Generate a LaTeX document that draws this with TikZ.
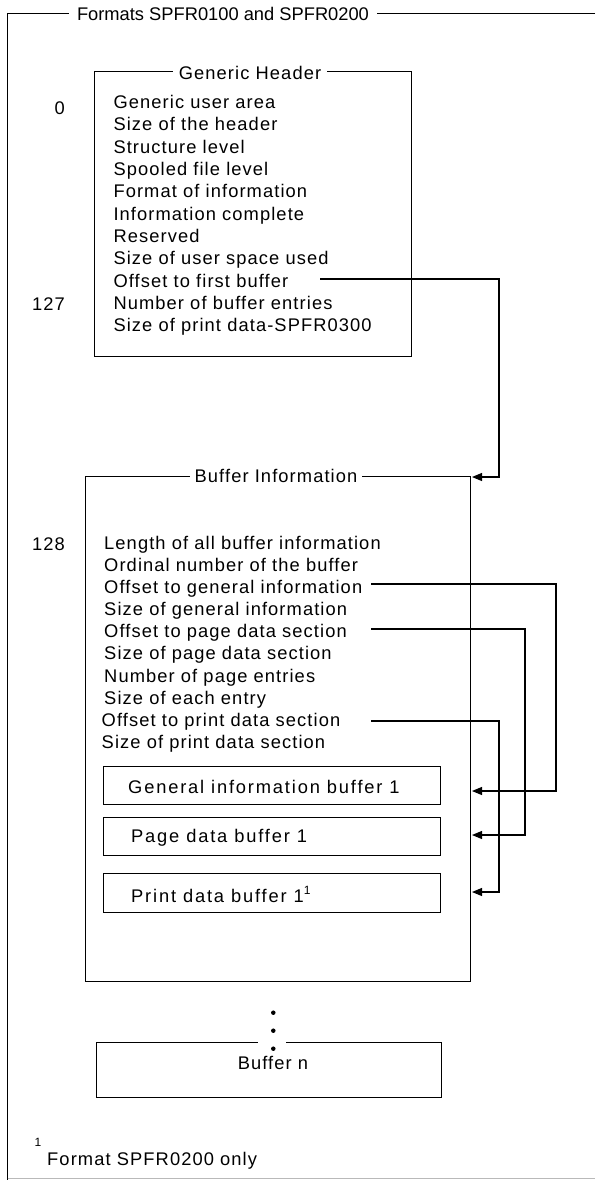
\documentclass[tikz,border=0pt]{standalone}
\usepackage{fontspec}
\setmainfont{Liberation Sans}
\newfontfamily\bodyfont[LetterSpace=6]{Liberation Sans}
\newfontfamily\widefont[LetterSpace=10]{Liberation Sans}
\usetikzlibrary{arrows.meta}
\newcommand{\itemsize}{\fontsize{18.3}{21}\selectfont}
\newcommand{\supsize}{\fontsize{12}{12}\selectfont}
\begin{document}
\begin{tikzpicture}[x=1pt,y=-1pt,
  ln/.style={line width=1.1pt},
  box/.style={draw, line width=1.1pt, inner sep=0pt, anchor=north west},
  ttl/.style={fill=white, inner xsep=6pt, inner ysep=3pt, anchor=base, font=\bodyfont\itemsize},
  item/.style={anchor=base west, inner sep=0pt, font=\bodyfont\itemsize},
  witem/.style={anchor=base west, inner sep=0pt, font=\widefont\itemsize},
  num/.style={anchor=base east, inner sep=0pt, font=\bodyfont\itemsize},
  arr/.style={line width=1.1pt, -{Triangle[length=10pt,width=8pt]}},
  dotn/.style={circle, fill, inner sep=0pt, minimum size=4.5pt}]
\useasboundingbox (0,0) rectangle (595,1180);

% outer frame
\draw[ln] (595,13.5) -- (7.5,13.5) -- (7.5,1180);
\draw[gray!55, line width=0.8pt] (7.5,1178.5) -- (595,1178.5);
\node[fill=white, inner xsep=8pt, inner ysep=3pt, anchor=base, font=\itemsize] (outer) at (223,20.3) {Formats SPFR0100 and SPFR0200};

% generic header
\node[box, minimum width=317pt, minimum height=285pt] (gh) at (94,71) {};
\node[ttl] (ght) at (250,80) {Generic Header};
\foreach \t [count=\i from 0] in {Generic user area, Size of the header, Structure level, Spooled file level, Format of information, Information complete, Reserved, Size of user space used, Offset to first buffer, Number of buffer entries, Size of print data-SPFR0300}
  \node[item] (g\i) at (113.3,108.7+22.3*\i) {\t};
\node[num] (n0) at (65,115) {0};
\node[num] (n127) at (65,310) {127};

% buffer information
\node[box, minimum width=385pt, minimum height=505pt] (bi) at (85,476) {};
\node[ttl, inner xsep=5pt] (bit) at (276,482.7) {Buffer Information};
\node[num] (n128) at (65,550) {128};
\foreach \t [count=\i from 0] in {Length of all buffer information, Ordinal number of the buffer, Offset to general information, Size of general information, Offset to page data section, Size of page data section, Number of page entries, Size of each entry}
  \node[item] (b\i) at (104,549.7+22.05*\i) {\t};
\node[item] (b8) at (101.5,726.1) {Offset to print data section};
\node[item] (b9) at (101.5,748.1) {Size of print data section};

% inner buffers
\node[box, minimum width=337pt, minimum height=38pt] (gib) at (103,766) {};
\node[witem] (gibt) at (128,793) {General information buffer 1};
\node[box, minimum width=337pt, minimum height=38pt] (pdb) at (103,817) {};
\node[witem] (pdbt) at (131,842) {Page data buffer 1};
\node[box, minimum width=337pt, minimum height=39pt] (prb) at (103,873) {};
\node[witem] (prbt) at (131,902) {Print data buffer 1\raisebox{8pt}{\supsize 1}};

% connectors
\coordinate (s0) at (320,279);
\coordinate (e0) at (472,477);
\draw[arr] (s0) -- (499,279) -- (499,477) -- (e0);
\coordinate (s1) at (371,584);
\coordinate (e1) at (472,791);
\draw[arr] (s1) -- (556,584) -- (556,791) -- (e1);
\coordinate (s2) at (371,629);
\coordinate (e2) at (472,835);
\draw[arr] (s2) -- (525,629) -- (525,835) -- (e2);
\coordinate (s3) at (371,721);
\coordinate (e3) at (472,892);
\draw[arr] (s3) -- (499,721) -- (499,892) -- (e3);

% buffer n
\node[box, minimum width=345pt, minimum height=55pt] (bn) at (96,1042) {};
\fill[white] (258,1039) rectangle (286,1045);
\node[anchor=base, inner sep=0pt, font=\bodyfont\itemsize] (bnt) at (273,1069) {Buffer n};
\node[dotn] (d1) at (273.3,1012.7) {};
\node[dotn] (d2) at (273.3,1030.7) {};
\node[dotn] (d3) at (273.3,1048.7) {};

% footnote
\node[anchor=base, inner sep=0pt, font=\supsize] (fns) at (38,1146) {1};
\node[item] (fn) at (47,1165) {Format SPFR0200 only};
\end{tikzpicture}
\end{document}
